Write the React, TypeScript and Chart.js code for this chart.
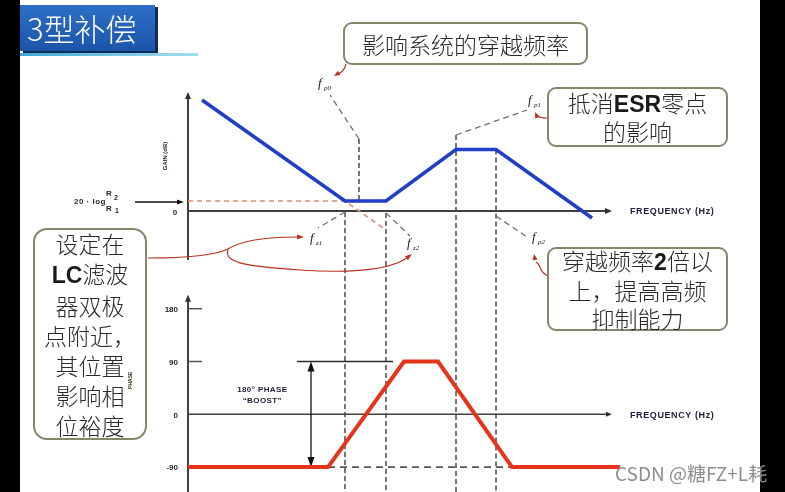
import React, { useEffect, useRef } from "react";
import { Chart, registerables } from "chart.js";

Chart.register(...registerables);

// ---- data (x = abstract log-frequency units, 0..100) ----
const gainFreq = [3.24, 36.34, 45.83, 62.04, 71.3, 93.52];
const gainDb = [44.4, 4, 4, 24.6, 24.6, -2.8];
const asymFreq = [0, 36.34, 45.83];
const asymDb = [4, 4, -7.6];
const phaseFreq = [0, 32.41, 50.0, 57.87, 75.0, 100];
const phaseDeg = [-90, -90, 90, 90, -90, -90];
const baseFreq = [32.41, 75.0];
const baseDeg = [-90, -90];
const boostFreq = [25.23, 47.45];
const boostDeg = [90, 90];
const phaseTicks = [180, 90, 0, -90];
const breakNames = ["p0", "z1", "z2", "p1", "p2"];
const breakFreq = [39.58, 36.34, 45.83, 62.04, 71.3];
const breakTopDb = [28.8, -0.4, -0.8, 30.4, 24.6];

// ---- annotation styling (pixel offsets) ----
const LEAD = {
  p0: { fromDb: 28.8, dx: -29, dy: -44, lx: -12, ly: -8, bottomDb: 3.2 },
  z1: { fromDb: -0.4, dx: -27, dy: 16, lx: -8, ly: 14, bottomDb: null },
  z2: { fromDb: -0.8, dx: 24, dy: 23, lx: -3, ly: 11, bottomDb: null },
  p1: { fromDb: 30.4, dx: 71, dy: -25, lx: 1, ly: -6, bottomDb: null },
  p2: { fromDb: -2, dx: 31, dy: 21, lx: 5, ly: 4, bottomDb: null },
} as Record<string, any>;

const toPts = (xs: number[], ys: number[]) => xs.map((x, i) => ({ x, y: ys[i] }));

function arrowHead(ctx: CanvasRenderingContext2D, x: number, y: number, ang: number, len: number, w: number) {
  ctx.save();
  ctx.translate(x, y);
  ctx.rotate(ang);
  ctx.beginPath();
  ctx.moveTo(0, 0);
  ctx.lineTo(-len, -w / 2);
  ctx.lineTo(-len, w / 2);
  ctx.closePath();
  ctx.fill();
  ctx.restore();
}

function seg(ctx: CanvasRenderingContext2D, x1: number, y1: number, x2: number, y2: number) {
  ctx.beginPath();
  ctx.moveTo(x1, y1);
  ctx.lineTo(x2, y2);
  ctx.stroke();
}

const bodePlugin = {
  id: "bodeDecor",
  beforeDatasetsDraw(chart: any) {
    const { ctx, chartArea } = chart;
    const X = (v: number) => chart.scales.x.getPixelForValue(v);
    const G = (v: number) => chart.scales.yG.getPixelForValue(v);
    const P = (v: number) => chart.scales.yP.getPixelForValue(v);
    const x0 = X(0);
    const xEnd = X(98.15);
    ctx.save();
    // breakpoint verticals and leaders
    breakNames.forEach((n, i) => {
      const c = LEAD[n];
      const x = X(breakFreq[i]);
      ctx.strokeStyle = "#2e2e2e";
      ctx.lineWidth = 1.3;
      ctx.setLineDash([5, 3]);
      seg(ctx, x, G(breakTopDb[i]), x, c.bottomDb === null ? chartArea.bottom : G(c.bottomDb));
      ctx.strokeStyle = "#707070";
      ctx.setLineDash([6, 4]);
      const ly = G(c.fromDb);
      seg(ctx, x, ly, x + c.dx, ly + c.dy);
    });
    ctx.setLineDash([]);
    // axes
    ctx.strokeStyle = "#404040";
    ctx.fillStyle = "#303030";
    ctx.lineWidth = 2;
    seg(ctx, x0, G(-19.6), x0, G(47.6) + 5);
    arrowHead(ctx, x0, G(47.6), -Math.PI / 2, 7, 6);
    seg(ctx, x0, G(0), xEnd - 5, G(0));
    arrowHead(ctx, xEnd, G(0), 0, 7, 6);
    seg(ctx, x0, chartArea.bottom, x0, P(204) + 5);
    arrowHead(ctx, x0, P(204), -Math.PI / 2, 7, 6);
    ctx.lineWidth = 1.5;
    seg(ctx, x0, P(0), xEnd - 5, P(0));
    arrowHead(ctx, xEnd, P(0), 0, 6, 5);
    ctx.strokeStyle = "#555";
    ctx.lineWidth = 1.5;
    phaseTicks.forEach((t) => {
      if (t > 0) seg(ctx, x0, P(t), x0 + 14, P(t));
    });
    // 20 log arrow
    ctx.strokeStyle = "#111";
    ctx.fillStyle = "#111";
    ctx.lineWidth = 1.5;
    const ay = G(4) + 1;
    seg(ctx, x0 - 53, ay, x0 - 10, ay);
    arrowHead(ctx, x0 - 4, ay, 0, 7, 5);
    // boost double arrow
    const bx = X(28.47);
    ctx.lineWidth = 1.3;
    seg(ctx, bx, P(90) + 8, bx, P(-90) - 8);
    arrowHead(ctx, bx, P(90), -Math.PI / 2, 10, 7);
    arrowHead(ctx, bx, P(-90), Math.PI / 2, 10, 7);
    ctx.restore();
  },
  afterDatasetsDraw(chart: any) {
    const { ctx } = chart;
    const X = (v: number) => chart.scales.x.getPixelForValue(v);
    const G = (v: number) => chart.scales.yG.getPixelForValue(v);
    const P = (v: number) => chart.scales.yP.getPixelForValue(v);
    const x0 = X(0);
    const xEnd = X(98.15);
    ctx.save();
    ctx.fillStyle = "#1f1f2e";
    ctx.textBaseline = "middle";
    // phase tick labels
    ctx.font = "bold 8px 'Liberation Sans'";
    ctx.textAlign = "right";
    phaseTicks.forEach((t) => ctx.fillText(String(t), x0 - 10, P(t) + 1));
    // gain zero
    ctx.textAlign = "center";
    ctx.fillText("0", x0 - 13, G(0) + 2);
    // 20 log R2/R1
    (ctx as any).letterSpacing = "0.5px";
    ctx.textAlign = "right";
    ctx.font = "bold 8px 'Liberation Sans'";
    ctx.fillText("20 · log", x0 - 82, G(4) + 1);
    ctx.textAlign = "left";
    ctx.font = "bold 8px 'Liberation Sans'";
    ctx.fillText("R", x0 - 82, G(4) - 7);
    ctx.fillText("R", x0 - 82, G(4) + 8);
    ctx.font = "bold 7px 'Liberation Sans'";
    ctx.fillText("2", x0 - 74, G(4) - 3);
    ctx.fillText("1", x0 - 73, G(4) + 10);
    // frequency labels
    ctx.font = "bold 9px 'Liberation Sans'";
    (ctx as any).letterSpacing = "0.6px";
    ctx.fillStyle = "#1d1d3a";
    ctx.fillText("FREQUENCY (Hz)", xEnd + 18, G(0) + 1);
    ctx.fillText("FREQUENCY (Hz)", xEnd + 18, P(0) + 1);
    (ctx as any).letterSpacing = "0px";
    // rotated axis titles
    ctx.save();
    ctx.translate(x0 - 23, G(22));
    ctx.rotate(-Math.PI / 2);
    ctx.textAlign = "center";
    ctx.font = "bold 6px 'Liberation Sans'";
    ctx.fillText("GAIN (dB)", 0, 0);
    ctx.restore();
    ctx.save();
    ctx.translate(x0 - 57, P(58));
    ctx.rotate(-Math.PI / 2);
    ctx.textAlign = "center";
    ctx.fillStyle = "#3a3418";
    ctx.font = "bold 5px 'Liberation Sans'";
    ctx.fillText("PHASE", 0, 0);
    ctx.restore();
    // boost text
    ctx.textAlign = "center";
    ctx.font = "bold 8px 'Liberation Sans'";
    (ctx as any).letterSpacing = "0.4px";
    ctx.fillText("180° PHASE", X(17.2), P(42));
    ctx.fillText("\u201cBOOST\u201d", X(17.2), P(23));
    (ctx as any).letterSpacing = "0px";
    // f labels
    ctx.textAlign = "left";
    ctx.textBaseline = "alphabetic";
    ctx.fillStyle = "#222";
    breakNames.forEach((n, i) => {
      const c = LEAD[n];
      const x = X(breakFreq[i]) + c.dx + c.lx;
      const y = G(c.fromDb) + c.dy + c.ly;
      ctx.font = "italic 13px 'Liberation Serif'";
      ctx.fillText("f", x, y);
      ctx.font = "italic 7px 'Liberation Serif'";
      ctx.fillText(n, x + 6, y + 3);
    });
    // red connector arrows
    ctx.strokeStyle = "#b8321e";
    ctx.fillStyle = "#b8321e";
    ctx.lineWidth = 1.1;
    ctx.beginPath();
    ctx.moveTo(148, 258);
    ctx.bezierCurveTo(190, 258, 215, 255, 228, 249);
    ctx.bezierCurveTo(242, 240, 270, 237, 297, 237);
    ctx.stroke();
    arrowHead(ctx, 304, 237, 0, 7, 5);
    ctx.beginPath();
    ctx.moveTo(228, 249);
    ctx.bezierCurveTo(224, 262, 240, 266, 300, 270);
    ctx.bezierCurveTo(360, 274, 392, 268, 407, 258);
    ctx.stroke();
    arrowHead(ctx, 412, 254, -0.65, 7, 5);
    // p0 arrow
    ctx.beginPath();
    ctx.moveTo(346, 64);
    ctx.quadraticCurveTo(344, 72, 338, 74);
    ctx.stroke();
    arrowHead(ctx, 334, 76, 2.6, 6, 5);
    // p1 arrow
    ctx.beginPath();
    ctx.moveTo(547, 118);
    ctx.quadraticCurveTo(540, 118, 537, 116);
    ctx.stroke();
    arrowHead(ctx, 535, 112, -2.0, 6, 5);
    // p2 arrow
    ctx.beginPath();
    ctx.moveTo(548, 276);
    ctx.bezierCurveTo(538, 272, 542, 265, 536, 262);
    ctx.stroke();
    arrowHead(ctx, 534, 254, -1.75, 6, 5);
    ctx.restore();
  },
};

const box: React.CSSProperties = {
  position: "absolute",
  boxSizing: "border-box",
  border: "2px solid #86866c",
  borderRadius: 9,
  background: "transparent",
  display: "flex",
  flexDirection: "column",
  alignItems: "center",
  justifyContent: "center",
  fontFamily: "'Noto Sans CJK SC', sans-serif",
  fontWeight: 300,
  color: "#2a2a2a",
  whiteSpace: "nowrap",
};
const latin: React.CSSProperties = { fontFamily: "'Liberation Sans', sans-serif", fontWeight: 700, color: "#1a1a1a" };

export default function App() {
  const ref = useRef<HTMLCanvasElement>(null);
  useEffect(() => {
    if (!ref.current) return;
    const chart = new Chart(ref.current, {
      type: "line",
      data: {
        datasets: [
          { label: "Gain", data: toPts(gainFreq, gainDb), yAxisID: "yG", borderColor: "#1f3fc6", borderWidth: 3.6, pointRadius: 0, tension: 0, fill: false },
          { label: "Phase", data: toPts(phaseFreq, phaseDeg), yAxisID: "yP", borderColor: "#e5331c", borderWidth: 4, pointRadius: 0, tension: 0, fill: false },
          { label: "R2/R1 asymptote", data: toPts(asymFreq, asymDb), yAxisID: "yG", borderColor: "#dc8a6e", borderWidth: 1.6, borderDash: [5, 4], pointRadius: 0, fill: false },
          { label: "-90 reference", data: toPts(baseFreq, baseDeg), yAxisID: "yP", borderColor: "#555", borderWidth: 1.8, borderDash: [7, 5], pointRadius: 0, fill: false },
          { label: "boost reference", data: toPts(boostFreq, boostDeg), yAxisID: "yP", borderColor: "#2a2a2a", borderWidth: 1.3, pointRadius: 0, fill: false },
        ],
      },
      options: {
        animation: false,
        responsive: false,
        events: [],
        layout: { padding: { left: 188, right: 165, top: 85, bottom: 0 } },
        plugins: { legend: { display: false }, tooltip: { enabled: false } },
        scales: {
          x: { type: "linear", min: 0, max: 100, display: false },
          yG: { type: "linear", min: -112.4, max: 50.4, display: false },
          yP: { type: "linear", min: -132.4, max: 561.3, display: false },
        },
      },
      plugins: [bodePlugin],
    } as any);
    return () => chart.destroy();
  }, []);

  return (
    <div style={{ position: "fixed", left: 0, top: 0, width: 785, height: 492, background: "#fff", overflow: "hidden" }}>
      <canvas ref={ref} width={785} height={492} style={{ position: "absolute", left: 0, top: 0, width: 785, height: 492 }} />
      <div style={{ position: "absolute", left: 20, top: 5, width: 135, height: 46, background: "linear-gradient(#2d6fc6, #1b55a9)", boxShadow: "3px 2px 0 #0c2c5a", color: "#fff", fontFamily: "'Noto Sans CJK SC', sans-serif", fontSize: 31, fontWeight: 300, lineHeight: "46px", paddingLeft: 7, boxSizing: "border-box", whiteSpace: "nowrap" }}>3型补偿</div>
      <div style={{ position: "absolute", left: 20, top: 53, width: 178, height: 3, background: "linear-gradient(90deg, #3fa8d6, #a8dcee)" }} />
      <div style={{ ...box, left: 343, top: 22, width: 245, height: 43, fontSize: 23 }}>影响系统的穿越频率</div>
      <div style={{ ...box, left: 547, top: 87, width: 181, height: 60, fontSize: 23, lineHeight: "27px" }}>
        <div>抵消<span style={latin}>ESR</span>零点</div>
        <div>的影响</div>
      </div>
      <div style={{ ...box, left: 547, top: 247, width: 181, height: 84, fontSize: 23, lineHeight: "28px" }}>
        <div>穿越频率<span style={latin}>2</span>倍以</div>
        <div>上，提高高频</div>
        <div>抑制能力</div>
      </div>
      <div style={{ ...box, left: 33, top: 228, width: 114, height: 212, borderRadius: 14, fontSize: 23, lineHeight: "30px" }}>
        <div>设定在</div>
        <div><span style={latin}>LC</span>滤波</div>
        <div>器双极</div>
        <div>点附近，</div>
        <div>其位置</div>
        <div>影响相</div>
        <div>位裕度</div>
      </div>
      <div style={{ position: "absolute", left: 0, top: 0, width: 20, height: 492, background: "#000" }} />
      <div style={{ position: "absolute", left: 760, top: 0, width: 25, height: 492, background: "#000" }} />
      <div style={{ position: "absolute", left: 615, top: 460, fontFamily: "'Noto Sans CJK SC', sans-serif", fontSize: 19, lineHeight: "26px", color: "#8e8e8e", whiteSpace: "nowrap" }}>CSDN @糖FZ+L耗</div>
    </div>
  );
}
